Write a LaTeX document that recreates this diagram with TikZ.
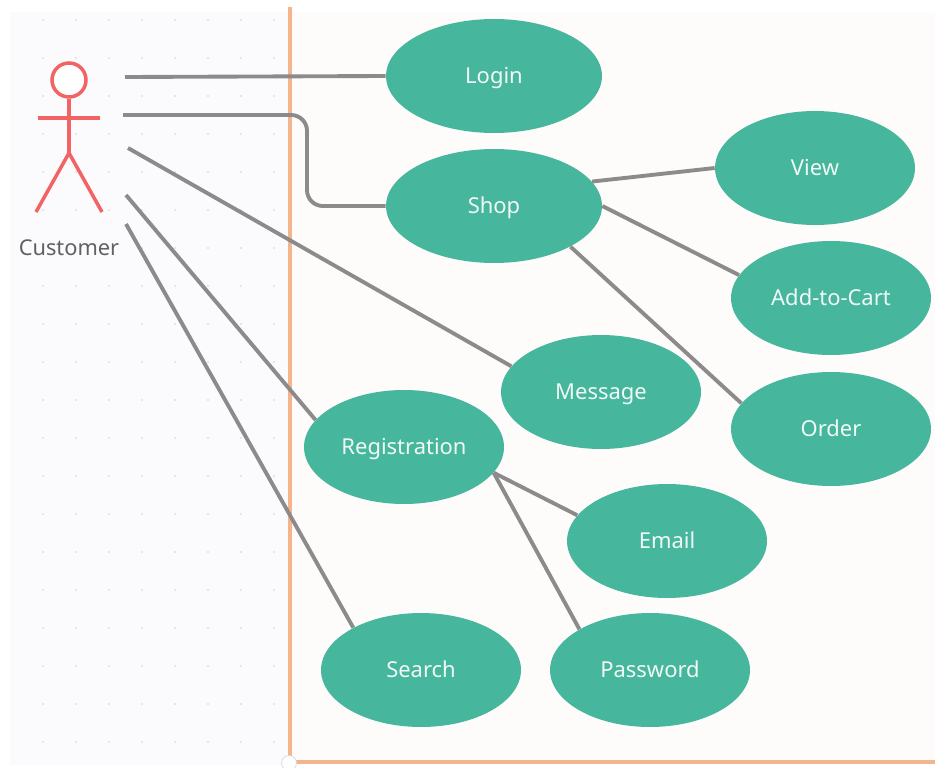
\documentclass[tikz,border=0pt]{standalone}
\usepackage{fontspec}
\setmainfont{Noto Sans}
\definecolor{usecasefill}{HTML}{46B69C}
\definecolor{linkgray}{HTML}{8C8A8A}
\definecolor{borderorange}{HTML}{F5B58C}
\definecolor{actorred}{HTML}{F26464}
\definecolor{leftbg}{HTML}{FBFBFE}
\definecolor{rightbg}{HTML}{FEFCFB}
\definecolor{gridmark}{HTML}{DDDDE6}
\tikzset{
  usecase/.style={ellipse, fill=usecasefill, text=white!92!usecasefill, inner sep=0pt,
    minimum width=4cm, minimum height=2.28cm, text height=8pt, text depth=0pt,
    font=\fontsize{12.5}{14}\selectfont},
  bigcase/.style={usecase, minimum width=4.32cm},
  link/.style={draw=linkgray, line width=2.2pt},
  actor/.style={draw=actorred, line width=2pt},
  border/.style={draw=borderorange, line width=2pt}
}
\usetikzlibrary{shapes.geometric}
\begin{document}
\begin{tikzpicture}[x=0.02cm, y=-0.02cm]
  \useasboundingbox (0,0) rectangle (935,767);
  \fill[leftbg] (10,12) rectangle (290,765);
  \fill[rightbg] (290,12) rectangle (935,762);
  % faint grid
  \foreach \x in {43,76,...,280}
    \foreach \y in {20,58,...,750}
      \fill[gridmark] (\x,\y) circle (1.2);

  \draw[border] (290,7) -- (290,762) -- (935,762);
  \node[circle, draw=gray!30, fill=white, inner sep=0pt, minimum size=0.3cm] (corner) at (289,763) {};

  % actor
  \node[circle, actor, fill=white, inner sep=0pt, minimum size=0.68cm] (head) at (69,80) {};
  \coordinate (hip) at (69,153);
  \coordinate (armL) at (38,118);
  \coordinate (armR) at (100,118);
  \coordinate (legL) at (36,212);
  \coordinate (legR) at (102,212);
  \draw[actor] (head) -- (hip);
  \draw[actor] (armL) -- (armR);
  \draw[actor] (legL) -- (hip) -- (legR);
  \node[text=black!62, font=\fontsize{12.4}{14}\selectfont] (customer) at (69,248) {Customer};

  % use cases
  \node[bigcase] (login) at (494,76) {Login};
  \node[bigcase] (shop) at (494,206) {Shop};
  \node[usecase] (view) at (815,168) {View};
  \node[usecase] (cart) at (831,298) {Add-to-Cart};
  \node[usecase] (order) at (831,429) {Order};
  \node[usecase] (message) at (601,392) {Message};
  \node[usecase] (registration) at (404,447) {Registration};
  \node[usecase] (email) at (667,541) {Email};
  \node[usecase] (search) at (421,670) {Search};
  \node[usecase] (password) at (650,670) {Password};

  % free ends next to the actor
  \coordinate (fromA) at (125,77);
  \coordinate (fromB) at (123,115);
  \coordinate (fromC) at (128,148);
  \coordinate (fromD) at (126,195);
  \coordinate (fromE) at (126,224);
  \coordinate (elbow) at (307,206);

  \draw[link] (fromA) -- (login.west);
  \draw[link, rounded corners=9pt] (fromB) -| (elbow) -- (shop.west);
  \draw[link] (fromC) -- (message.164);
  \draw[link] (fromD) -- (registration.163);
  \draw[link] (fromE) -- (search.148);

  \draw[link] (shop.14) -- (view.west);
  \draw[link] (shop.east) -- (cart.166);
  \draw[link] (shop.-28) -- (order.164);
  \draw[link] (registration.-16) -- (email.164);
  \draw[link] (registration.-16) -- (password.150);
\end{tikzpicture}
\end{document}
